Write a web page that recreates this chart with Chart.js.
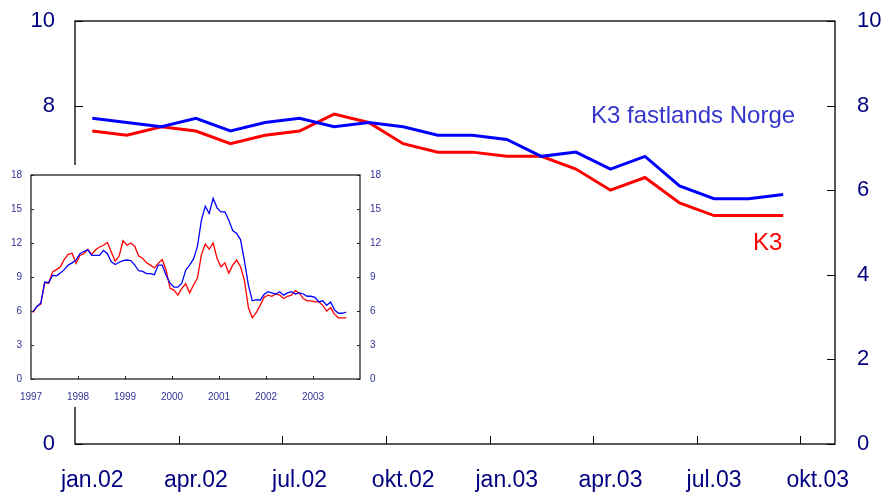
<!DOCTYPE html>
<html>
<head>
<meta charset="utf-8">
<script src="https://cdn.jsdelivr.net/npm/chart.js@4"></script>
<style>
  body { margin: 0; background: #fff; }
  #wrap { position: relative; width: 884px; height: 496px; }
  #inset { position: absolute; left: 0; top: 165px; width: 385px; height: 242px; background: #fff; }
</style>
</head>
<body>
<div id="wrap">
  <canvas id="mainChart" width="884" height="496"></canvas>
  <div id="inset"><canvas id="insetChart" width="385" height="242"></canvas></div>
</div>
<script>
// monthly categories, main chart (jan.02 - okt.03)
const months = ['jan.02', 'feb.02', 'mar.02', 'apr.02', 'mai.02', 'jun.02', 'jul.02', 'aug.02', 'sep.02', 'okt.02', 'nov.02', 'des.02',
    'jan.03', 'feb.03', 'mar.03', 'apr.03', 'mai.03', 'jun.03', 'jul.03', 'aug.03', 'sep.03', 'okt.03'];
const k3Fastland = [7.7, 7.6, 7.5, 7.7, 7.4, 7.6, 7.7, 7.5, 7.6, 7.5, 7.3, 7.3, 7.2, 6.8, 6.9, 6.5, 6.8, 6.1, 5.8, 5.8, 5.9];
const k3 = [7.4, 7.3, 7.5, 7.4, 7.1, 7.3, 7.4, 7.8, 7.6, 7.1, 6.9, 6.9, 6.8, 6.8, 6.5, 6.0, 6.3, 5.7, 5.4, 5.4, 5.4];

// inset: monthly 1997 - 2001 (2002-2003 taken from the arrays above)
const insetYears = ['1997', '1998', '1999', '2000', '2001', '2002', '2003'];
const k3Fastland9701 = [
    5.95, 6.4, 6.7, 8.55, 8.5, 9.15, 9.1, 9.35, 9.65, 10.05, 10.25, 10.5,
    11.05, 11.25, 11.4, 10.9, 10.9, 10.9, 11.35, 11.05, 10.35, 10.1, 10.3, 10.45,
    10.5, 10.45, 10.05, 9.55, 9.5, 9.3, 9.3, 9.2, 10.05, 10.05, 9.15, 8.45,
    8.1, 8.1, 8.45, 9.6, 10.05, 10.6, 11.7, 14.0, 15.25, 14.6, 15.95, 15.1,
    14.75, 14.75, 14.0, 13.1, 12.85, 12.3, 10.4, 8.3, 6.9, 7.0, 6.95, 7.45];
const k39701 = [
    5.85, 6.4, 6.6, 8.5, 8.45, 9.45, 9.65, 9.9, 10.55, 11.0, 11.1, 10.2,
    10.9, 11.05, 11.45, 11.0, 11.4, 11.65, 11.8, 12.05, 11.2, 10.4, 10.85, 12.2,
    11.8, 12.0, 11.7, 10.85, 10.65, 10.25, 10.05, 9.8, 10.2, 10.55, 9.6, 8.0,
    7.85, 7.4, 8.0, 8.4, 7.6, 8.3, 8.9, 10.95, 11.9, 11.45, 12.0, 10.65,
    9.9, 10.25, 9.35, 10.05, 10.5, 9.9, 8.7, 6.3, 5.4, 5.85, 6.5, 7.2];

Chart.defaults.font.family = '"Liberation Sans", Arial, sans-serif';

const NAVY = '#000080';

// fixed axis sizes, no extra label overhang
function fitV(w) { return s => { s.width = w; s.paddingTop = 0; s.paddingBottom = 0; }; }
function fitH(h) { return s => { s.height = h; s.paddingLeft = 0; s.paddingRight = 0; }; }

// box around plot + tick marks pointing inwards
function frameTicks(opts) {
    return {
        id: 'frameTicks',
        afterDraw(chart) {
            const ctx = chart.ctx;
            const a = chart.chartArea;
            const ys = chart.scales.y;
            const xs = chart.scales.x;
            ctx.save();
            ctx.strokeStyle = opts.color;
            ctx.lineWidth = opts.width;
            ctx.strokeRect(a.left, a.top, a.right - a.left, a.bottom - a.top);
            ctx.lineWidth = 1;
            ctx.beginPath();
            ys.ticks.forEach(t => {
                const y = Math.round(ys.getPixelForValue(t.value)) + 0.5;
                ctx.moveTo(a.left, y); ctx.lineTo(a.left + opts.len, y);
                ctx.moveTo(a.right, y); ctx.lineTo(a.right - opts.len, y);
            });
            opts.xTicks(xs).forEach(px => {
                const x = Math.round(px) + 0.5;
                ctx.moveTo(x, a.bottom); ctx.lineTo(x, a.bottom - opts.len);
            });
            ctx.stroke();
            ctx.restore();
            if (opts.after) opts.after(chart);
        }
    };
}

new Chart(document.getElementById('mainChart'), {
    type: 'line',
    data: {
        labels: months,
        datasets: [
            { label: 'K3 fastlands Norge', data: k3Fastland, borderColor: '#0000ff', borderWidth: 3, pointRadius: 0, tension: 0, yAxisID: 'y' },
            { label: 'K3', data: k3, borderColor: '#ff0000', borderWidth: 3, pointRadius: 0, tension: 0, yAxisID: 'y' }
        ]
    },
    options: {
        responsive: false,
        animation: false,
        layout: { padding: { top: 21, left: 0, right: 0, bottom: 0 } },
        plugins: { legend: { display: false }, tooltip: { enabled: false } },
        scales: {
            x: {
                offset: true,
                grid: { display: false, drawTicks: false, offset: true },
                border: { display: false },
                ticks: {
                    autoSkip: false, maxRotation: 0, padding: 23,
                    color: NAVY, font: { size: 23 },
                    callback: function (v, i) { return i % 3 === 0 ? months[i] : ''; }
                },
                afterFit: fitH(52)
            },
            y: {
                position: 'left', min: 0, max: 10,
                grid: { display: false, drawTicks: false },
                border: { display: false },
                ticks: { stepSize: 2, padding: 20, color: NAVY, font: { size: 22 } },
                afterFit: fitV(75)
            },
            y2: {
                position: 'right', min: 0, max: 10,
                grid: { display: false, drawTicks: false },
                border: { display: false },
                ticks: { stepSize: 2, padding: 22, color: NAVY, font: { size: 22 } },
                afterFit: fitV(49)
            }
        }
    },
    plugins: [frameTicks({
        color: '#000', width: 1.3, len: 8,
        xTicks: xs => [2, 5, 8, 11, 14, 17, 20].map(i => (xs.getPixelForValue(i) + xs.getPixelForValue(i + 1)) / 2),
        after(chart) {
            const ctx = chart.ctx;
            ctx.save();
            ctx.font = '24px "Liberation Sans", Arial, sans-serif';
            ctx.textBaseline = 'alphabetic';
            ctx.fillStyle = '#3535cc';
            ctx.fillText('K3 fastlands Norge', 591, 123);
            ctx.fillStyle = '#ff0000';
            ctx.fillText('K3', 753, 250);
            ctx.restore();
        }
    })]
});

// inset: long history
const fastAll = k3Fastland9701.concat(k3Fastland);
const k3All = k39701.concat(k3);

new Chart(document.getElementById('insetChart'), {
    type: 'line',
    data: {
        datasets: [
            { data: fastAll.map((v, i) => ({ x: i + 0.5, y: v })), borderColor: '#0000ff', borderWidth: 1.3, pointRadius: 0, tension: 0 },
            { data: k3All.map((v, i) => ({ x: i + 0.5, y: v })), borderColor: '#ff0000', borderWidth: 1.3, pointRadius: 0, tension: 0 }
        ]
    },
    options: {
        responsive: false,
        animation: false,
        layout: { padding: { top: 10, left: 0, right: 0, bottom: 0 } },
        plugins: { legend: { display: false }, tooltip: { enabled: false } },
        scales: {
            x: {
                type: 'linear', min: 0, max: 84,
                grid: { display: false, drawTicks: false },
                border: { display: false },
                ticks: {
                    stepSize: 12, padding: 12, maxRotation: 0, color: '#333399', font: { size: 10 },
                    callback: v => insetYears[v / 12] || ''
                },
                afterFit: fitH(28)
            },
            y: {
                position: 'left', min: 0, max: 18,
                grid: { display: false, drawTicks: false },
                border: { display: false },
                ticks: { stepSize: 3, padding: 9, color: '#333399', font: { size: 10 } },
                afterFit: fitV(31)
            },
            y2: {
                position: 'right', min: 0, max: 18,
                grid: { display: false, drawTicks: false },
                border: { display: false },
                ticks: { stepSize: 3, padding: 10, color: '#333399', font: { size: 10 } },
                afterFit: fitV(25)
            }
        }
    },
    plugins: [frameTicks({
        color: '#222', width: 1.3, len: 3,
        xTicks: xs => [12, 24, 36, 48, 60, 72].map(v => xs.getPixelForValue(v))
    })]
});
</script>
</body>
</html>
